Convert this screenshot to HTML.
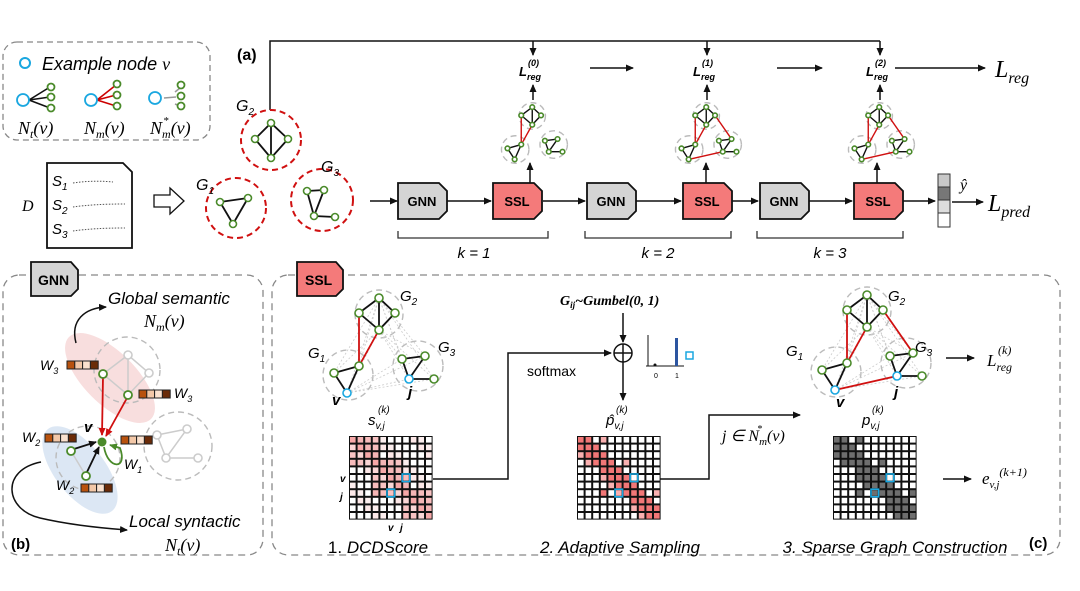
<!DOCTYPE html>
<html><head><meta charset="utf-8"><style>
html,body{margin:0;padding:0;background:#fff;width:1080px;height:591px;overflow:hidden}
svg text{font-family:"Liberation Sans",sans-serif}
.m{font-family:"Liberation Serif",serif;font-style:italic}
.b{font-weight:bold}
</style></head><body>
<svg id="s" width="1080" height="591" viewBox="0 0 1080 591" xmlns="http://www.w3.org/2000/svg">
<defs>
<marker id="ar" markerWidth="8" markerHeight="8" refX="7" refY="4" orient="auto" markerUnits="userSpaceOnUse"><path d="M0,0.5 L8,4 L0,7.5z" fill="#111"/></marker>
<marker id="arr" markerWidth="8" markerHeight="8" refX="7" refY="4" orient="auto" markerUnits="userSpaceOnUse"><path d="M0,0.5 L8,4 L0,7.5z" fill="#d01010"/></marker>
<marker id="arg" markerWidth="8" markerHeight="8" refX="7" refY="4" orient="auto" markerUnits="userSpaceOnUse"><path d="M0,0.5 L8,4 L0,7.5z" fill="#4a8a2a"/></marker>
</defs>
<!-- legend -->
<rect x="3" y="42" width="207" height="98" rx="14" fill="none" stroke="#888" stroke-dasharray="6,4" stroke-width="1.3"/>
<circle cx="25" cy="63" r="5" fill="none" stroke="#1aa7e0" stroke-width="2"/>
<text x="42" y="70" font-size="18" font-style="italic">Example node <tspan class="m">v</tspan></text>
<g stroke-width="1.6">
<line x1="29" y1="100" x2="50" y2="87" stroke="#111"/><line x1="29" y1="100" x2="50" y2="97" stroke="#111"/><line x1="29" y1="100" x2="50" y2="108" stroke="#111"/>
<line x1="97" y1="100" x2="116" y2="85" stroke="#c00"/><line x1="97" y1="100" x2="116" y2="95" stroke="#c00"/><line x1="97" y1="100" x2="116" y2="106" stroke="#c00"/>
<line x1="175" y1="92" x2="180" y2="88" stroke="#999"/><line x1="175" y1="104" x2="180" y2="106" stroke="#999"/><line x1="176" y1="97" x2="164" y2="98" stroke="#999"/>
</g>
<g fill="#fff" stroke-width="1.8">
<circle cx="23" cy="100" r="6" stroke="#1aa7e0"/><circle cx="51" cy="87" r="3.5" stroke="#4a8a2a"/><circle cx="51" cy="97" r="3.5" stroke="#4a8a2a"/><circle cx="51" cy="108" r="3.5" stroke="#4a8a2a"/>
<circle cx="91" cy="100" r="6" stroke="#1aa7e0"/><circle cx="117" cy="84" r="3.5" stroke="#4a8a2a"/><circle cx="117" cy="95" r="3.5" stroke="#4a8a2a"/><circle cx="117" cy="106" r="3.5" stroke="#4a8a2a"/>
<circle cx="155" cy="98" r="6" stroke="#1aa7e0"/><circle cx="181" cy="85" r="3.5" stroke="#4a8a2a"/><circle cx="181" cy="96" r="3.5" stroke="#4a8a2a"/><circle cx="181" cy="106" r="3.5" stroke="#4a8a2a"/>
</g>
<text class="m" x="18" y="134" font-size="18">N<tspan font-size="12" dy="4">t</tspan><tspan dy="-4">(v)</tspan></text>
<text class="m" x="84" y="134" font-size="18">N<tspan font-size="12" dy="4">m</tspan><tspan dy="-4">(v)</tspan></text>
<text class="m" x="150" y="134" font-size="18">N<tspan font-size="12" dy="4">m</tspan><tspan dy="-4">(v)</tspan></text>
<text class="m" x="163" y="124" font-size="11">*</text>

<!-- (a) -->
<text x="237" y="60" font-size="16" class="b">(a)</text>
<polyline points="270,110 270,41 880,41" fill="none" stroke="#111" stroke-width="1.5"/>
<line x1="533" y1="41" x2="533" y2="55" stroke="#111" stroke-width="1.5" marker-end="url(#ar)"/>
<line x1="707" y1="41" x2="707" y2="55" stroke="#111" stroke-width="1.5" marker-end="url(#ar)"/>
<line x1="880" y1="41" x2="880" y2="55" stroke="#111" stroke-width="1.5" marker-end="url(#ar)"/>
<g class="m b" font-size="13"><text x="519" y="76">L<tspan font-size="9" dy="4">reg</tspan></text><text x="528" y="66" font-size="9">(0)</text>
<text x="693" y="76">L<tspan font-size="9" dy="4">reg</tspan></text><text x="702" y="66" font-size="9">(1)</text>
<text x="866" y="76">L<tspan font-size="9" dy="4">reg</tspan></text><text x="875" y="66" font-size="9">(2)</text></g>
<line x1="590" y1="68" x2="633" y2="68" stroke="#111" stroke-width="1.5" marker-end="url(#ar)"/>
<line x1="777" y1="68" x2="822" y2="68" stroke="#111" stroke-width="1.5" marker-end="url(#ar)"/>
<line x1="895" y1="68" x2="985" y2="68" stroke="#111" stroke-width="1.5" marker-end="url(#ar)"/>
<text class="m" x="995" y="77" font-size="24">L<tspan font-size="16" dy="6">reg</tspan></text>
<g stroke="#111" stroke-width="1.5"><line x1="533" y1="100" x2="533" y2="85" marker-end="url(#ar)"/><line x1="707" y1="100" x2="707" y2="85" marker-end="url(#ar)"/><line x1="880" y1="100" x2="880" y2="85" marker-end="url(#ar)"/>
<line x1="530" y1="183" x2="530" y2="163" marker-end="url(#ar)"/><line x1="706" y1="183" x2="706" y2="163" marker-end="url(#ar)"/><line x1="877" y1="183" x2="877" y2="163" marker-end="url(#ar)"/></g>

<!-- doc -->
<path d="M47,163 L123,163 L132,172 L132,248 L47,248Z" fill="#fff" stroke="#111" stroke-width="1.8"/>
<text class="m" x="22" y="211" font-size="16">D</text>
<g class="m" font-size="15"><text x="52" y="186">S<tspan font-size="10" dy="4">1</tspan></text><text x="52" y="210">S<tspan font-size="10" dy="4">2</tspan></text><text x="52" y="234">S<tspan font-size="10" dy="4">3</tspan></text></g>
<g stroke="#555" stroke-dasharray="1.5,1.5" fill="none"><path d="M73,183 q20,-3 40,-1"/><path d="M73,207 q20,-3 52,-3"/><path d="M73,231 q20,-3 52,-3"/></g>
<path d="M154,195 L170,195 L170,188 L184,201 L170,214 L170,207 L154,207Z" fill="#fff" stroke="#111" stroke-width="1.3"/>
<g fill="none" stroke="#d01010" stroke-width="2" stroke-dasharray="6,4"><circle cx="271" cy="140" r="30"/><circle cx="236" cy="208" r="30"/><circle cx="322" cy="200" r="31"/></g>
<g class="m" font-size="16"><text x="236" y="111">G<tspan font-size="10" dy="4">2</tspan></text><text x="196" y="190">G<tspan font-size="10" dy="4">1</tspan></text><text x="321" y="172">G<tspan font-size="10" dy="4">3</tspan></text></g>
<g id="bigg"></g>

<!-- pipeline -->
<line x1="370" y1="201" x2="397" y2="201" stroke="#111" stroke-width="1.5" marker-end="url(#ar)"/>
<g id="pipe"></g>
<rect x="938" y="174" width="12" height="53" fill="#fff" stroke="#333"/>
<rect x="938" y="174" width="12" height="13" fill="#c8c8c8" stroke="#333"/><rect x="938" y="187" width="12" height="13" fill="#777" stroke="#333"/><rect x="938" y="200" width="12" height="13" fill="#ddd" stroke="#333"/>
<text class="m" x="960" y="190" font-size="16">ŷ</text>
<line x1="952" y1="202" x2="983" y2="202" stroke="#111" stroke-width="1.5" marker-end="url(#ar)"/>
<text class="m" x="988" y="211" font-size="24">L<tspan font-size="16" dy="6">pred</tspan></text>
<g fill="none" stroke="#333" stroke-width="1.3"><path d="M398,231 v7 h150 v-7"/><path d="M585,231 v7 h146 v-7"/><path d="M757,231 v7 h146 v-7"/></g>
<g class="m" font-size="15" text-anchor="middle"><text x="474" y="258">k = 1</text><text x="658" y="258">k = 2</text><text x="830" y="258">k = 3</text></g>

<!-- panel b -->
<rect x="3" y="275" width="260" height="280" rx="16" fill="none" stroke="#888" stroke-dasharray="7,5" stroke-width="1.3"/>
<ellipse cx="110" cy="378" rx="58" ry="26" transform="rotate(45 110 378)" fill="#f6d6d6" opacity="0.8"/>
<ellipse cx="80" cy="470" rx="52" ry="25" transform="rotate(52 80 470)" fill="#d8e4f3" opacity="0.9"/>
<g fill="none" stroke="#bbb" stroke-width="1.4" stroke-dasharray="6,4"><circle cx="127" cy="370" r="33"/><circle cx="178" cy="446" r="34"/><circle cx="88" cy="458" r="32"/></g>
<g stroke="#ccc" stroke-width="1.5" fill="none"><path d="M128,355 L103,374 L128,395 L149,373 Z M128,355 L128,395"/><path d="M157,435 L187,429 L166,458 Z M166,458 L198,458"/><path d="M71,451 L86,476"/></g>
<g fill="#fff" stroke="#ccc" stroke-width="1.6"><circle cx="128" cy="355" r="4"/><circle cx="149" cy="373" r="4"/><circle cx="157" cy="435" r="4"/><circle cx="187" cy="429" r="4"/><circle cx="166" cy="458" r="4"/><circle cx="198" cy="458" r="4"/></g>
<line x1="103" y1="377" x2="102" y2="435" stroke="#d01010" stroke-width="1.8" marker-end="url(#arr)"/>
<line x1="127" y1="398" x2="106" y2="436" stroke="#d01010" stroke-width="1.8" marker-end="url(#arr)"/>
<line x1="74" y1="449" x2="96" y2="442" stroke="#111" stroke-width="1.8" marker-end="url(#ar)"/>
<line x1="87" y1="472" x2="99" y2="447" stroke="#111" stroke-width="1.8" marker-end="url(#ar)"/>
<path d="M104,447 C108,470 128,470 120,448 L110,445" fill="none" stroke="#4a8a2a" stroke-width="1.8" marker-end="url(#arg)"/>
<g fill="#fff" stroke="#4a8a2a" stroke-width="1.8"><circle cx="103" cy="374" r="4"/><circle cx="128" cy="395" r="4"/><circle cx="71" cy="451" r="4"/><circle cx="86" cy="476" r="4"/></g>
<circle cx="102" cy="442" r="4.5" fill="#4a8a2a"/>
<g id="bars"></g>
<g class="m" font-size="14"><text x="40" y="370">W<tspan font-size="9" dy="4">3</tspan></text><text x="174" y="398">W<tspan font-size="9" dy="4">3</tspan></text><text x="22" y="442">W<tspan font-size="9" dy="4">2</tspan></text><text x="56" y="490">W<tspan font-size="9" dy="4">2</tspan></text><text x="124" y="469">W<tspan font-size="9" dy="4">1</tspan></text><text x="84" y="432" font-weight="bold" font-size="15">v</text></g>
<text x="108" y="304" font-size="17" font-style="italic">Global semantic</text>
<text class="m" x="144" y="327" font-size="18">N<tspan font-size="12" dy="4">m</tspan><tspan dy="-4">(v)</tspan></text>
<path d="M76,343 C70,320 85,308 106,307" fill="none" stroke="#111" stroke-width="1.5" marker-end="url(#ar)"/>
<text x="129" y="527" font-size="17" font-style="italic">Local syntactic</text>
<text class="m" x="165" y="551" font-size="18">N<tspan font-size="12" dy="4">t</tspan><tspan dy="-4">(v)</tspan></text>
<path d="M41,462 C0,470 5,510 40,518 C70,525 100,528 127,530" fill="none" stroke="#111" stroke-width="1.5" marker-end="url(#ar)"/>
<text x="11" y="549" font-size="15" class="b">(b)</text>
<path d="M31,262 L71,262 L78,270 L78,289 L71,296 L31,296Z" fill="#d4d4d4" stroke="#111" stroke-width="1.8"/>
<text x="38" y="285" font-size="14" class="b">GNN</text>

<!-- panel c -->
<rect x="272" y="275" width="788" height="280" rx="16" fill="none" stroke="#888" stroke-dasharray="7,5" stroke-width="1.3"/>
<path d="M297,262 L336,262 L343,270 L343,289 L336,296 L297,296Z" fill="#f47a7a" stroke="#111" stroke-width="1.8"/>
<text x="305" y="285" font-size="14" class="b">SSL</text>
<g id="cg"></g>
<g class="m" font-size="15"><text x="400" y="301">G<tspan font-size="10" dy="4">2</tspan></text><text x="308" y="358">G<tspan font-size="10" dy="4">1</tspan></text><text x="438" y="352">G<tspan font-size="10" dy="4">3</tspan></text>
<text x="888" y="301">G<tspan font-size="10" dy="4">2</tspan></text><text x="786" y="356">G<tspan font-size="10" dy="4">1</tspan></text><text x="915" y="352">G<tspan font-size="10" dy="4">3</tspan></text></g>
<g class="m b" font-size="15"><text x="332" y="405">v</text><text x="408" y="397">j</text><text x="836" y="407">v</text><text x="894" y="397">j</text></g>
<g id="mats"></g>
<g class="m" font-size="15"><text x="368" y="425">s<tspan font-size="10" dy="4">v,j</tspan></text><text x="378" y="413" font-size="10">(k)</text>
<text x="606" y="425">p̂<tspan font-size="10" dy="4">v,j</tspan></text><text x="616" y="413" font-size="10">(k)</text>
<text x="862" y="425">p<tspan font-size="10" dy="4">v,j</tspan></text><text x="872" y="413" font-size="10">(k)</text></g>
<g class="m b" font-size="10"><text x="340" y="482">v</text><text x="340" y="500">j</text><text x="388" y="531">v</text><text x="400" y="531">j</text></g>
<text x="378" y="553" font-size="17" text-anchor="middle">1. <tspan font-style="italic">DCDScore</tspan></text>
<text x="620" y="553" font-size="17" text-anchor="middle" font-style="italic">2. Adaptive Sampling</text>
<text x="895" y="553" font-size="17" text-anchor="middle" font-style="italic">3. Sparse Graph Construction</text>
<text x="1029" y="548" font-size="15" class="b">(c)</text>
<polyline points="433,479 508,479 508,353 611,353" fill="none" stroke="#111" stroke-width="1.5" marker-end="url(#ar)"/>
<text x="527" y="376" font-size="14" font-family="Liberation Serif">softmax</text>
<text x="560" y="305" font-size="14" class="m b">G<tspan font-size="9" dy="3">ij</tspan><tspan dy="-3">~Gumbel(0, 1)</tspan></text>
<line x1="623" y1="313" x2="623" y2="342" stroke="#111" stroke-width="1.5" marker-end="url(#ar)"/>
<circle cx="623" cy="353" r="9" fill="#fff" stroke="#111" stroke-width="1.5"/><path d="M614,353 h18 M623,344 v18" stroke="#111" stroke-width="1.5"/>
<line x1="623" y1="362" x2="623" y2="400" stroke="#111" stroke-width="1.5" marker-end="url(#ar)"/>
<path d="M648,366 V335 M646,366 H684" stroke="#111" stroke-width="1" fill="none"/>
<rect x="675" y="338" width="3" height="28" fill="#2c55a0"/><circle cx="655" cy="365" r="1.5" fill="#111"/>
<rect x="686" y="352" width="7" height="7" fill="none" stroke="#1aa7e0" stroke-width="1.5"/>
<text x="654" y="378" font-size="7">0</text><text x="675" y="378" font-size="7">1</text>
<polyline points="660,479 709,479 709,415 800,415" fill="none" stroke="#111" stroke-width="1.5" marker-end="url(#ar)"/>
<text class="m" x="722" y="441" font-size="16">j ∈ N<tspan font-size="11" dy="4">m</tspan><tspan dy="-4">(v)</tspan></text>
<text class="m" x="757" y="432" font-size="10">*</text>
<line x1="946" y1="358" x2="974" y2="358" stroke="#111" stroke-width="1.5" marker-end="url(#ar)"/>
<text class="m" x="987" y="366" font-size="17">L<tspan font-size="12" dy="5">reg</tspan></text><text class="m" x="998" y="354" font-size="12">(k)</text>
<line x1="943" y1="479" x2="971" y2="479" stroke="#111" stroke-width="1.5" marker-end="url(#ar)"/>
<text class="m" x="982" y="484" font-size="17">e<tspan font-size="11" dy="4">v,j</tspan><tspan font-size="12" dy="-12">(k+1)</tspan></text>
</svg>
<script>
var NS="http://www.w3.org/2000/svg";
function add(par,tag,at){var e=document.createElementNS(NS,tag);for(var k in at)e.setAttribute(k,at[k]);par.appendChild(e);return e;}
var G="#4a8a2a",B="#1aa7e0";
var pipe=document.getElementById('pipe');
function box(x,label,fill){add(pipe,'path',{d:'M'+x+',183 h41 l8,8 v20 l-8,8 h-41z',fill:fill,stroke:'#111','stroke-width':1.8});var t=add(pipe,'text',{x:x+24,y:206,'font-size':13,'font-weight':'bold','text-anchor':'middle'});t.textContent=label;}
box(398,'GNN','#d4d4d4');box(493,'SSL','#f47a7a');box(587,'GNN','#d4d4d4');box(683,'SSL','#f47a7a');box(760,'GNN','#d4d4d4');box(854,'SSL','#f47a7a');
[[447,492],[543,586],[636,682],[732,759],[809,853],[903,936]].forEach(function(p){add(pipe,'line',{x1:p[0],y1:201,x2:p[1]-1,y2:201,stroke:'#111','stroke-width':1.5,'marker-end':'url(#ar)'});});
var bg=document.getElementById('bigg');
function graph(par,nodes,edges,r,sw){edges.forEach(function(e){add(par,'line',{x1:nodes[e[0]][0],y1:nodes[e[0]][1],x2:nodes[e[1]][0],y2:nodes[e[1]][1],stroke:e[2]||'#111','stroke-width':sw});});
for(var k in nodes){var n=nodes[k];add(par,'circle',{cx:n[0],cy:n[1],r:r,fill:'#fff',stroke:n[2]||G,'stroke-width':1.6});}}
graph(bg,{a:[271,123],b:[255,139],c:[288,139],d:[271,158]},[['a','b'],['a','c'],['b','d'],['c','d'],['a','d']],3.5,1.8);
graph(bg,{a:[220,202],b:[248,198],c:[233,224]},[['a','b'],['b','c'],['a','c']],3.5,1.8);
graph(bg,{a:[307,191],b:[324,190],c:[314,216],d:[335,217]},[['a','b'],['a','c'],['b','c'],['c','d']],3.5,1.8);
function cluster(par,cx,cy,s,reds,blue,faint){
 var P={a:[-5,-47],b:[-25,-32],c:[11,-32],d:[-5,-15],e:[-50,28],f:[-25,21],v:[-37,48],g:[18,14],h:[41,11],j:[25,34],k:[50,34]};
 var n={};for(var q in P)n[q]=[cx+P[q][0]*s,cy+P[q][1]*s];
 [[-5,-31,24],[-36,30,25],[34,21,25]].forEach(function(c){add(par,'circle',{cx:cx+c[0]*s,cy:cy+c[1]*s,r:c[2]*s,fill:'none',stroke:'#bbb','stroke-width':1.4,'stroke-dasharray':'6,4'});});
 if(faint){var ks=Object.keys(n);for(var i=0;i<ks.length;i++)for(var j=i+1;j<ks.length;j++){if((i*7+j*3)%3==0)add(par,'line',{x1:n[ks[i]][0],y1:n[ks[i]][1],x2:n[ks[j]][0],y2:n[ks[j]][1],stroke:'#ccc','stroke-width':0.8,'stroke-dasharray':'2,2'});}}
 var E=[['a','b'],['a','c'],['b','d'],['c','d'],['a','d'],['e','f'],['f','v'],['e','v'],['g','h'],['g','j'],['h','j'],['j','k']].map(function(e){return [e[0],e[1],'#111'];});
 reds.forEach(function(r){E.push([r[0],r[1],'#d01010']);});
 var nodes={};for(var q in n)nodes[q]=[n[q][0],n[q][1],(blue&&(q=='v'||q=='j'))?B:G];
 graph(par,nodes,E,s>0.8?4:2.3,s>0.8?1.8:1.4);
}
cluster(bg,535,133,0.55,[['b','f'],['d','f']],false,false);
cluster(bg,709,133,0.55,[['b','f'],['d','f'],['c','h'],['v','j']],false,false);
cluster(bg,882,133,0.55,[['b','f'],['d','f'],['c','h'],['v','j']],false,false);
var cg=document.getElementById('cg');
cluster(cg,384,345,1,[['b','f'],['d','f']],true,true);
cluster(cg,872,342,1,[['b','f'],['d','f'],['c','h'],['v','j']],true,true);
var bars=document.getElementById('bars');
[[67,361],[139,390],[45,434],[121,436],[81,484]].forEach(function(b){var cols=['#b8520e','#f3c8a8','#fbe2cf','#6a2b08'];for(var i=0;i<4;i++)add(bars,'rect',{x:b[0]+i*7.8,y:b[1],width:7.8,height:8,fill:cols[i],stroke:'#222','stroke-width':1});});
var mats=document.getElementById('mats');var N=11,cs=7.6;
function blk(r,c){return (r<4&&c<4)||(r>=3&&r<8&&c>=3&&c<8&&!(r<5&&c>6))||(r>=7&&c>=7);}
function mat(x0,y0,type){add(mats,'rect',{x:x0,y:y0,width:N*cs,height:N*cs,fill:'#111'});
 for(var r=0;r<N;r++)for(var c=0;c<N;c++){var f='#fff';var h=((r*13+c*7)%5);
  if(type==1){f=blk(r,c)?['#f7a8a8','#f9c3c3','#f5b5b5','#fbd6d6','#f8bcbc'][h]:['#fff','#fde8e8','#fff','#fceeee','#fff'][h];}
  else if(type==2){f=blk(r,c)&&h!=4?(h==1?'#f9b0b0':'#f27777'):(h==0&&(r+c)%4==0?'#f8c0c0':'#fff');}
  else{f=blk(r,c)&&h!=4?'#6e6e6e':'#fff';}
  add(mats,'rect',{x:x0+c*cs+1,y:y0+r*cs+1,width:cs-2,height:cs-2,fill:f});}
 add(mats,'rect',{x:x0+7*cs,y:y0+5*cs,width:cs,height:cs,fill:'none',stroke:B,'stroke-width':1.6});
 add(mats,'rect',{x:x0+5*cs,y:y0+7*cs,width:cs,height:cs,fill:'none',stroke:B,'stroke-width':1.6});}
mat(349,436,1);mat(577,436,2);mat(833,436,3);
</script>
</body></html>
